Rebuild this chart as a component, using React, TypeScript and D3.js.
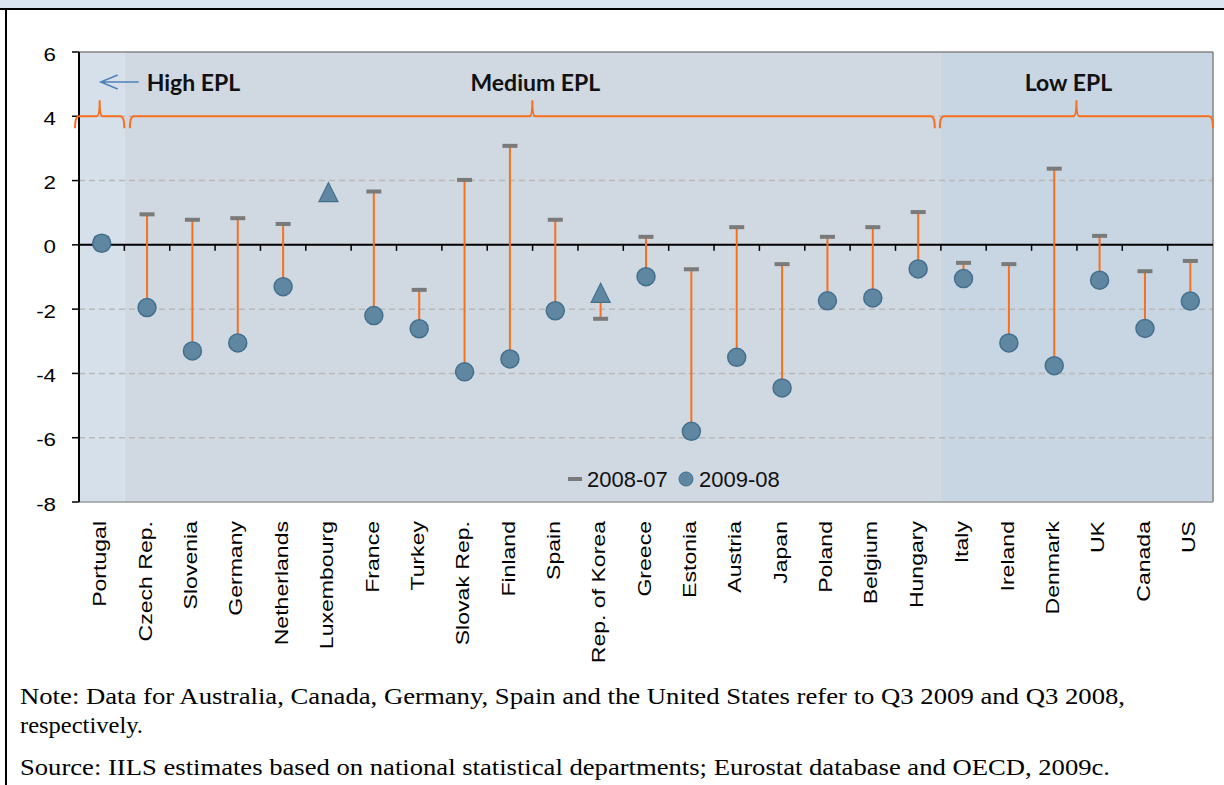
import React from "react";
import * as d3 from "d3";

// ---- data ----
const categories = [
  "Portugal", "Czech Rep.", "Slovenia", "Germany", "Netherlands", "Luxembourg",
  "France", "Turkey", "Slovak Rep.", "Finland", "Spain", "Rep. of Korea", "Greece",
  "Estonia", "Austria", "Japan", "Poland", "Belgium", "Hungary", "Italy", "Ireland",
  "Denmark", "UK", "Canada", "US",
];
const series2008_07: (number | null)[] = [
  0.22, 0.95, 0.78, 0.83, 0.65, null, 1.66, -1.4, 2.02, 3.08, 0.78, -2.3, 0.25,
  -0.76, 0.55, -0.6, 0.25, 0.55, 1.02, -0.56, -0.6, 2.37, 0.28, -0.82, -0.5,
];
const series2009_08 = [
  0.05, -1.95, -3.3, -3.05, -1.3, 1.58, -2.2, -2.61, -3.95, -3.55, -2.05, -1.55, -0.99,
  -5.8, -3.5, -4.45, -1.74, -1.65, -0.75, -1.05, -3.05, -3.76, -1.1, -2.6, -1.75,
];
const yTicks = [-8, -6, -4, -2, 0, 2, 4, 6];
const gridValues = [-6, -4, -2, 2, 4];
const groupNames = ["High EPL", "Medium EPL", "Low EPL"];
const groupFrom = [0, 1, 19];
const groupTo = [0, 18, 24];
const seriesNames = ["2008-07", "2009-08"];
const noteLines = [
  "Note: Data for Australia, Canada, Germany, Spain and the United States refer to Q3 2009 and Q3 2008,",
  "respectively.",
  "Source: IILS estimates based on national statistical departments; Eurostat database and OECD, 2009c.",
];

// ---- layout / style ----
const W = 1224, H = 785;
const PL = 79, PR = 1213, PT = 52, PB = 502;
const groupFills = ["#d6e0ea", "#d0d8e1", "#c8d5e2"];
const braceInsets: [number, number][] = [[-4, 0], [5.5, -6], [-1, 0]];
const ORANGE = "#f8701e";
const DOT_FILL = "#5f87a2";
const DOT_STROKE = "#44708e";
const DASH = "#7a7a7a";
const SANS = "'Liberation Sans', Arial, sans-serif";

export default function App() {
  const x = d3.scaleBand<string>().domain(categories).range([PL, PR]).padding(0);
  const y = d3.scaleLinear().domain([-8, 6]).range([PB, PT]);
  const bw = x.bandwidth();
  const cx = (i: number) => (x(categories[i]) as number) + bw / 2;
  const yb = y(4);

  const bracePath = (x0: number, x1: number) => {
    const pk = (x0 + x1) / 2;
    return `M${x0},${yb + 12} Q${x0},${yb} ${x0 + 4},${yb} L${pk - 3},${yb} Q${pk},${yb} ${pk},${yb - 16} Q${pk},${yb} ${pk + 3},${yb} L${x1 - 4},${yb} Q${x1},${yb} ${x1},${yb + 12}`;
  };

  const tri = (px: number, py: number, s: number) =>
    `M${px},${py - s * 0.6} L${px + s / 2},${py + s * 0.4} L${px - s / 2},${py + s * 0.4} Z`;

  return (
    <div style={{ position: "absolute", left: 0, top: 0 }}>
      <svg width={W} height={H} style={{ display: "block", background: "#fff" }}>
        {/* frame */}
        <rect x={0} y={0} width={W} height={8} fill="#dbe5f1" />
        <line x1={0} x2={W} y1={9} y2={9} stroke="#000" strokeWidth={2} />
        <line x1={6} x2={6} y1={8} y2={H} stroke="#000" strokeWidth={2} />

        {/* group backgrounds */}
        {groupNames.map((g, i) => {
          const x0 = x(categories[groupFrom[i]]) as number;
          const x1 = (x(categories[groupTo[i]]) as number) + bw;
          return <rect key={g} x={x0} y={PT} width={x1 - x0} height={PB - PT} fill={groupFills[i]} />;
        })}

        {/* gridlines */}
        {gridValues.map((v) => (
          <line key={v} x1={PL} x2={PR} y1={y(v)} y2={y(v)} stroke="#b9b9b9" strokeWidth={1.5} strokeDasharray="6,4" />
        ))}

        {/* plot border */}
        <line x1={PL} x2={PR} y1={PT} y2={PT} stroke="#858585" strokeWidth={1.5} />
        <line x1={PR} x2={PR} y1={PT} y2={PB} stroke="#858585" strokeWidth={1.5} />
        <line x1={PL} x2={PR} y1={PB} y2={PB} stroke="#9a9a9a" strokeWidth={1.5} />

        {/* y axis */}
        <line x1={PL} x2={PL} y1={PT} y2={PB} stroke="#000" strokeWidth={2} />
        {yTicks.map((v) => (
          <g key={v}>
            <line x1={72} x2={PL} y1={y(v)} y2={y(v)} stroke="#000" strokeWidth={1.5} />
            <text
              transform={`translate(56,${y(v) + 8.5}) scale(1.2,1)`}
              textAnchor="end"
              fontFamily={SANS}
              fontSize={18.6}
              fill="#000"
            >
              {String(v)}
            </text>
          </g>
        ))}

        {/* zero axis with category ticks */}
        <line x1={PL} x2={PR} y1={y(0)} y2={y(0)} stroke="#000" strokeWidth={2} />
        {categories.slice(1).map((c) => (
          <line key={c} x1={x(c) as number} x2={x(c) as number} y1={y(0)} y2={y(0) + 6} stroke="#000" strokeWidth={1.5} />
        ))}

        {/* braces and group labels */}
        {groupNames.map((g, i) => {
          const x0 = (x(categories[groupFrom[i]]) as number) + braceInsets[i][0];
          const x1 = (x(categories[groupTo[i]]) as number) + bw + braceInsets[i][1];
          const pk = (x0 + x1) / 2;
          return (
            <g key={g}>
              <path d={bracePath(x0, x1)} fill="none" stroke={ORANGE} strokeWidth={2} />
              {i === 0 ? (
                <g>
                  <path
                    d={`M${pk + 39},${82} L${pk + 1},${82} M${pk + 18},${75} L${pk + 1},${82} L${pk + 18},${89}`}
                    fill="none"
                    stroke="#4f81bd"
                    strokeWidth={1.5}
                  />
                  <text x={pk + 47} y={91} fontFamily="Lato, 'Open Sans', sans-serif" fontWeight={700} fontSize={23} fill="#111">
                    {g}
                  </text>
                </g>
              ) : (
                <text x={pk + (i === 2 ? -8 : 3)} y={91} textAnchor="middle" fontFamily="Lato, 'Open Sans', sans-serif" fontWeight={700} fontSize={23} fill="#111">
                  {g}
                </text>
              )}
            </g>
          );
        })}

        {/* stems */}
        {categories.map((c, i) => {
          const a = series2008_07[i];
          if (a == null) return null;
          return <line key={c} x1={cx(i)} x2={cx(i)} y1={y(a)} y2={y(series2009_08[i])} stroke={ORANGE} strokeWidth={2} />;
        })}

        {/* 2008-07 dashes */}
        {categories.map((c, i) => {
          const a = series2008_07[i];
          if (a == null) return null;
          return <rect key={c} x={cx(i) - 7.5} y={y(a) - 2} width={15} height={4} fill={DASH} />;
        })}

        {/* 2009-08 markers */}
        {categories.map((c, i) => {
          const a = series2008_07[i];
          const b = series2009_08[i];
          const up = a == null || b > a;
          return up ? (
            <path key={c} d={tri(cx(i), y(b), 19)} fill={DOT_FILL} stroke={DOT_STROKE} strokeWidth={1.2} />
          ) : (
            <circle key={c} cx={cx(i)} cy={y(b)} r={9} fill={DOT_FILL} stroke={DOT_STROKE} strokeWidth={1.5} />
          );
        })}

        {/* legend */}
        <rect x={568} y={477} width={14} height={4} fill={DASH} />
        <text x={587} y={487} fontFamily={SANS} fontSize={22} fill="#111">{seriesNames[0]}</text>
        <circle cx={686} cy={479} r={7} fill={DOT_FILL} stroke={DOT_STROKE} strokeWidth={1} />
        <text x={699} y={487} fontFamily={SANS} fontSize={22} fill="#111">{seriesNames[1]}</text>

        {/* category labels */}
        {categories.map((c, i) => (
          <text
            key={c}
            transform={`translate(${cx(i)},521) rotate(-90) scale(1.24,1)`}
            dy="0.25em"
            textAnchor="end"
            fontFamily={SANS}
            fontSize={18.6}
            fill="#000"
          >
            {c}
          </text>
        ))}

        {/* notes */}
        <text x={20} y={704} fontFamily="'Liberation Serif', 'Times New Roman', serif" fontSize={22.5} textLength={1105} lengthAdjust="spacingAndGlyphs">
          {noteLines[0]}
        </text>
        <text x={20} y={733} fontFamily="'Liberation Serif', 'Times New Roman', serif" fontSize={22.5} textLength={123} lengthAdjust="spacingAndGlyphs">
          {noteLines[1]}
        </text>
        <text x={20} y={775} fontFamily="'Liberation Serif', 'Times New Roman', serif" fontSize={22.5} textLength={1090} lengthAdjust="spacingAndGlyphs">
          {noteLines[2]}
        </text>
      </svg>
    </div>
  );
}
